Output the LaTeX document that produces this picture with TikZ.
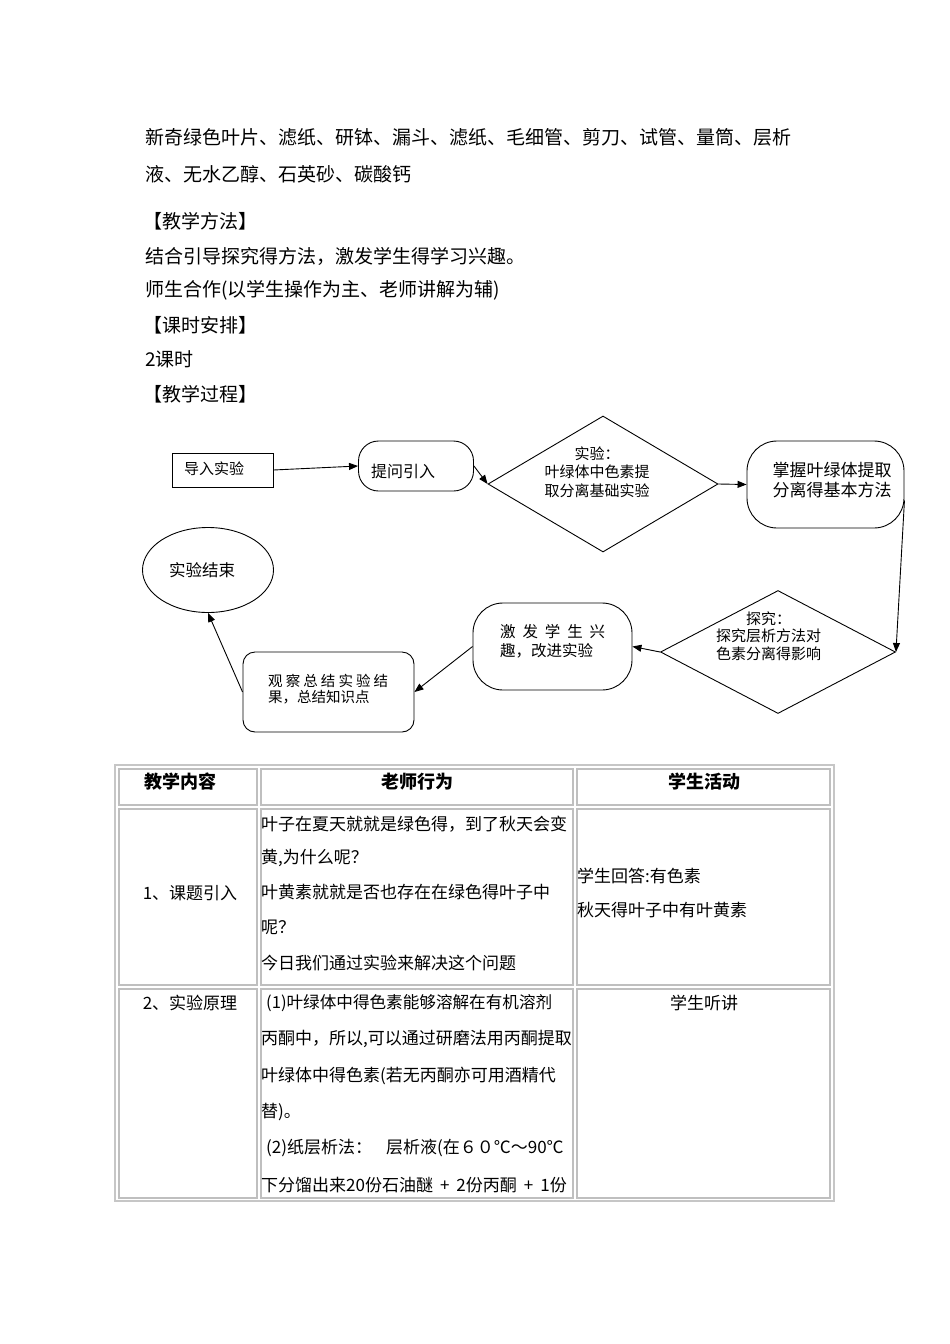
\documentclass[tikz,border=0pt]{standalone}
\usepackage{fontspec}
\setmainfont{Noto Sans CJK SC}
\usetikzlibrary{shapes.geometric,arrows.meta}
\tikzset{
  body/.style={anchor=west, inner sep=0pt, font=\fontsize{19}{19}\selectfont},
  ftext/.style={inner sep=0pt, align=center, font=\fontsize{15}{18.5}\selectfont},
  fbox/.style={draw, line width=0.9pt, inner sep=0pt},
  arr/.style={-{Triangle[length=9pt,width=7pt]}, line width=0.9pt},
  cellline/.style={draw=gray!50, line width=1.4pt},
  frameline/.style={draw=gray!45, line width=2pt},
  ttext/.style={anchor=west, inner sep=0pt, font=\fontsize{17}{17}\selectfont},
  tctext/.style={inner sep=0pt, font=\fontsize{17}{17}\selectfont},
  thead/.style={inner sep=0pt, font=\fontsize{18}{18}\selectfont\bfseries},
}
\begin{document}
\begin{tikzpicture}[x=1pt,y=-1pt]
\useasboundingbox[fill=white] (0,0) rectangle (950,1344);

% ---------- top text ----------
\node[body] (l1) at (145,137) {新奇绿色叶片、滤纸、研钵、漏斗、滤纸、毛细管、剪刀、试管、量筒、层析};
\node[body] (l2) at (145,174) {液、无水乙醇、石英砂、碳酸钙};
\node[body] (l3) at (143,221) {【教学方法】};
\node[body] (l4) at (145,256) {结合引导探究得方法，激发学生得学习兴趣。};
\node[body] (l5) at (145,290) {师生合作(以学生操作为主、老师讲解为辅)};
\node[body] (l6) at (143,325) {【课时安排】};
\node[body] (l7) at (145,359) {2课时};
\node[body] (l8) at (143,394) {【教学过程】};

% ---------- flowchart ----------
\node[fbox, rectangle, minimum width=101pt, minimum height=34pt] (a) at (222.5,470) {};
\node[ftext, anchor=west] (at) at (184,469) {导入实验};

\node[fbox, rectangle, rounded corners=20pt, minimum width=115pt, minimum height=50pt] (q) at (416,466) {};
\node[ftext, anchor=west, font=\fontsize{16}{16}\selectfont] (qt) at (371,471) {提问引入};

\node[fbox, diamond, minimum width=230pt, minimum height=136pt] (d1) at (603,484) {};
\node[ftext] (d1t) at (597,472) {实验：\\叶绿体中色素提\\取分离基础实验};

\node[fbox, rectangle, rounded corners=30pt, minimum width=157pt, minimum height=87pt] (m) at (825.5,484.5) {};
\node[ftext, font=\fontsize{17}{20}\selectfont] (mt) at (832,480) {掌握叶绿体提取\\分离得基本方法};

\node[fbox, diamond, minimum width=235pt, minimum height=123pt] (d2) at (778,652) {};
\node[ftext, font=\fontsize{15}{17.5}\selectfont] (d2t) at (768.5,636) {探究：\\探究层析方法对\\色素分离得影响};

\node[fbox, rectangle, rounded corners=30pt, minimum width=159pt, minimum height=87pt] (j) at (552.5,646.5) {};
\node[ftext, anchor=west, align=left, font=\fontsize{15.5}{19}\selectfont] (jt) at (500,641.5)
  {\makebox[105pt][l]{激\hfill 发\hfill 学\hfill 生\hfill 兴}\\趣，改进实验};

\node[fbox, rectangle, rounded corners=12pt, minimum width=171pt, minimum height=80pt] (o) at (328.5,692) {};
\node[ftext, anchor=west, align=left, font=\fontsize{14.5}{16.5}\selectfont] (ot) at (268,689)
  {\makebox[120pt][l]{观\hfill 察\hfill 总\hfill 结\hfill 实\hfill 验\hfill 结}\\果，总结知识点};

\node[fbox, ellipse, minimum width=131pt, minimum height=85pt] (e) at (208,570) {};
\node[ftext, font=\fontsize{16.5}{16.5}\selectfont] (et) at (202,570) {实验结束};

\draw[arr] (a.east) -- (q.west);
\draw[arr] (q.east) -- (d1.west);
\draw[arr] (d1.east) -- (m.west);
\draw[arr] ([yshift=-16pt]m.east) -- (d2.east);
\draw[arr] (d2.west) -- (j.east);
\draw[arr] (j.west) -- (o.east);
\draw[arr] (o.west) -- (e.south);

% ---------- table ----------
\draw[frameline] (115,765) rectangle (834,1201);
% header cells
\draw[cellline] (119,769) rectangle (257,805);
\draw[cellline] (261,769) rectangle (573,805);
\draw[cellline] (577,769) rectangle (830,805);
% row 1
\draw[cellline] (119,809) rectangle (257,985);
\draw[cellline] (261,809) rectangle (573,985);
\draw[cellline] (577,809) rectangle (830,985);
% row 2
\draw[cellline] (119,989) rectangle (257,1198);
\draw[cellline] (261,989) rectangle (573,1198);
\draw[cellline] (577,989) rectangle (830,1198);

\node[thead] (h1) at (180,782) {教学内容};
\node[thead] (h2) at (417.5,782) {老师行为};
\node[thead] (h3) at (704,782) {学生活动};

\node[tctext] (r1c1) at (190,893) {1、课题引入};
\node[ttext] (r1a) at (261,824) {叶子在夏天就就是绿色得，到了秋天会变};
\node[ttext] (r1b) at (261,858) {黄,为什么呢？};
\node[ttext] (r1c) at (261,892) {叶黄素就就是否也存在在绿色得叶子中};
\node[ttext] (r1d) at (261,927) {呢？};
\node[ttext] (r1e) at (261,963) {今日我们通过实验来解决这个问题};
\node[ttext] (r1s1) at (577,876) {学生回答:有色素};
\node[ttext] (r1s2) at (577,910) {秋天得叶子中有叶黄素};

\node[tctext] (r2c1) at (190,1003) {2、实验原理};
\node[ttext, font=\fontsize{16.6}{16.6}\selectfont] (r2a) at (266,1003) {(1)叶绿体中得色素能够溶解在有机溶剂};
\node[ttext] (r2b) at (261,1039) {丙酮中，所以,可以通过研磨法用丙酮提取};
\node[ttext] (r2c) at (261,1076) {叶绿体中得色素(若无丙酮亦可用酒精代};
\node[ttext] (r2d) at (261,1112) {替)。};
\node[ttext] (r2e) at (266,1148) {(2)纸层析法：\hspace{14pt}层析液(在６０℃～90℃};
\node[ttext] (r2f) at (261,1185) {下分馏出来20份石油醚\hspace{7pt}+\hspace{7pt}2份丙酮\hspace{7pt}+\hspace{7pt}1份};
\node[tctext] (r2s) at (704,1003) {学生听讲};
\end{tikzpicture}
\end{document}
